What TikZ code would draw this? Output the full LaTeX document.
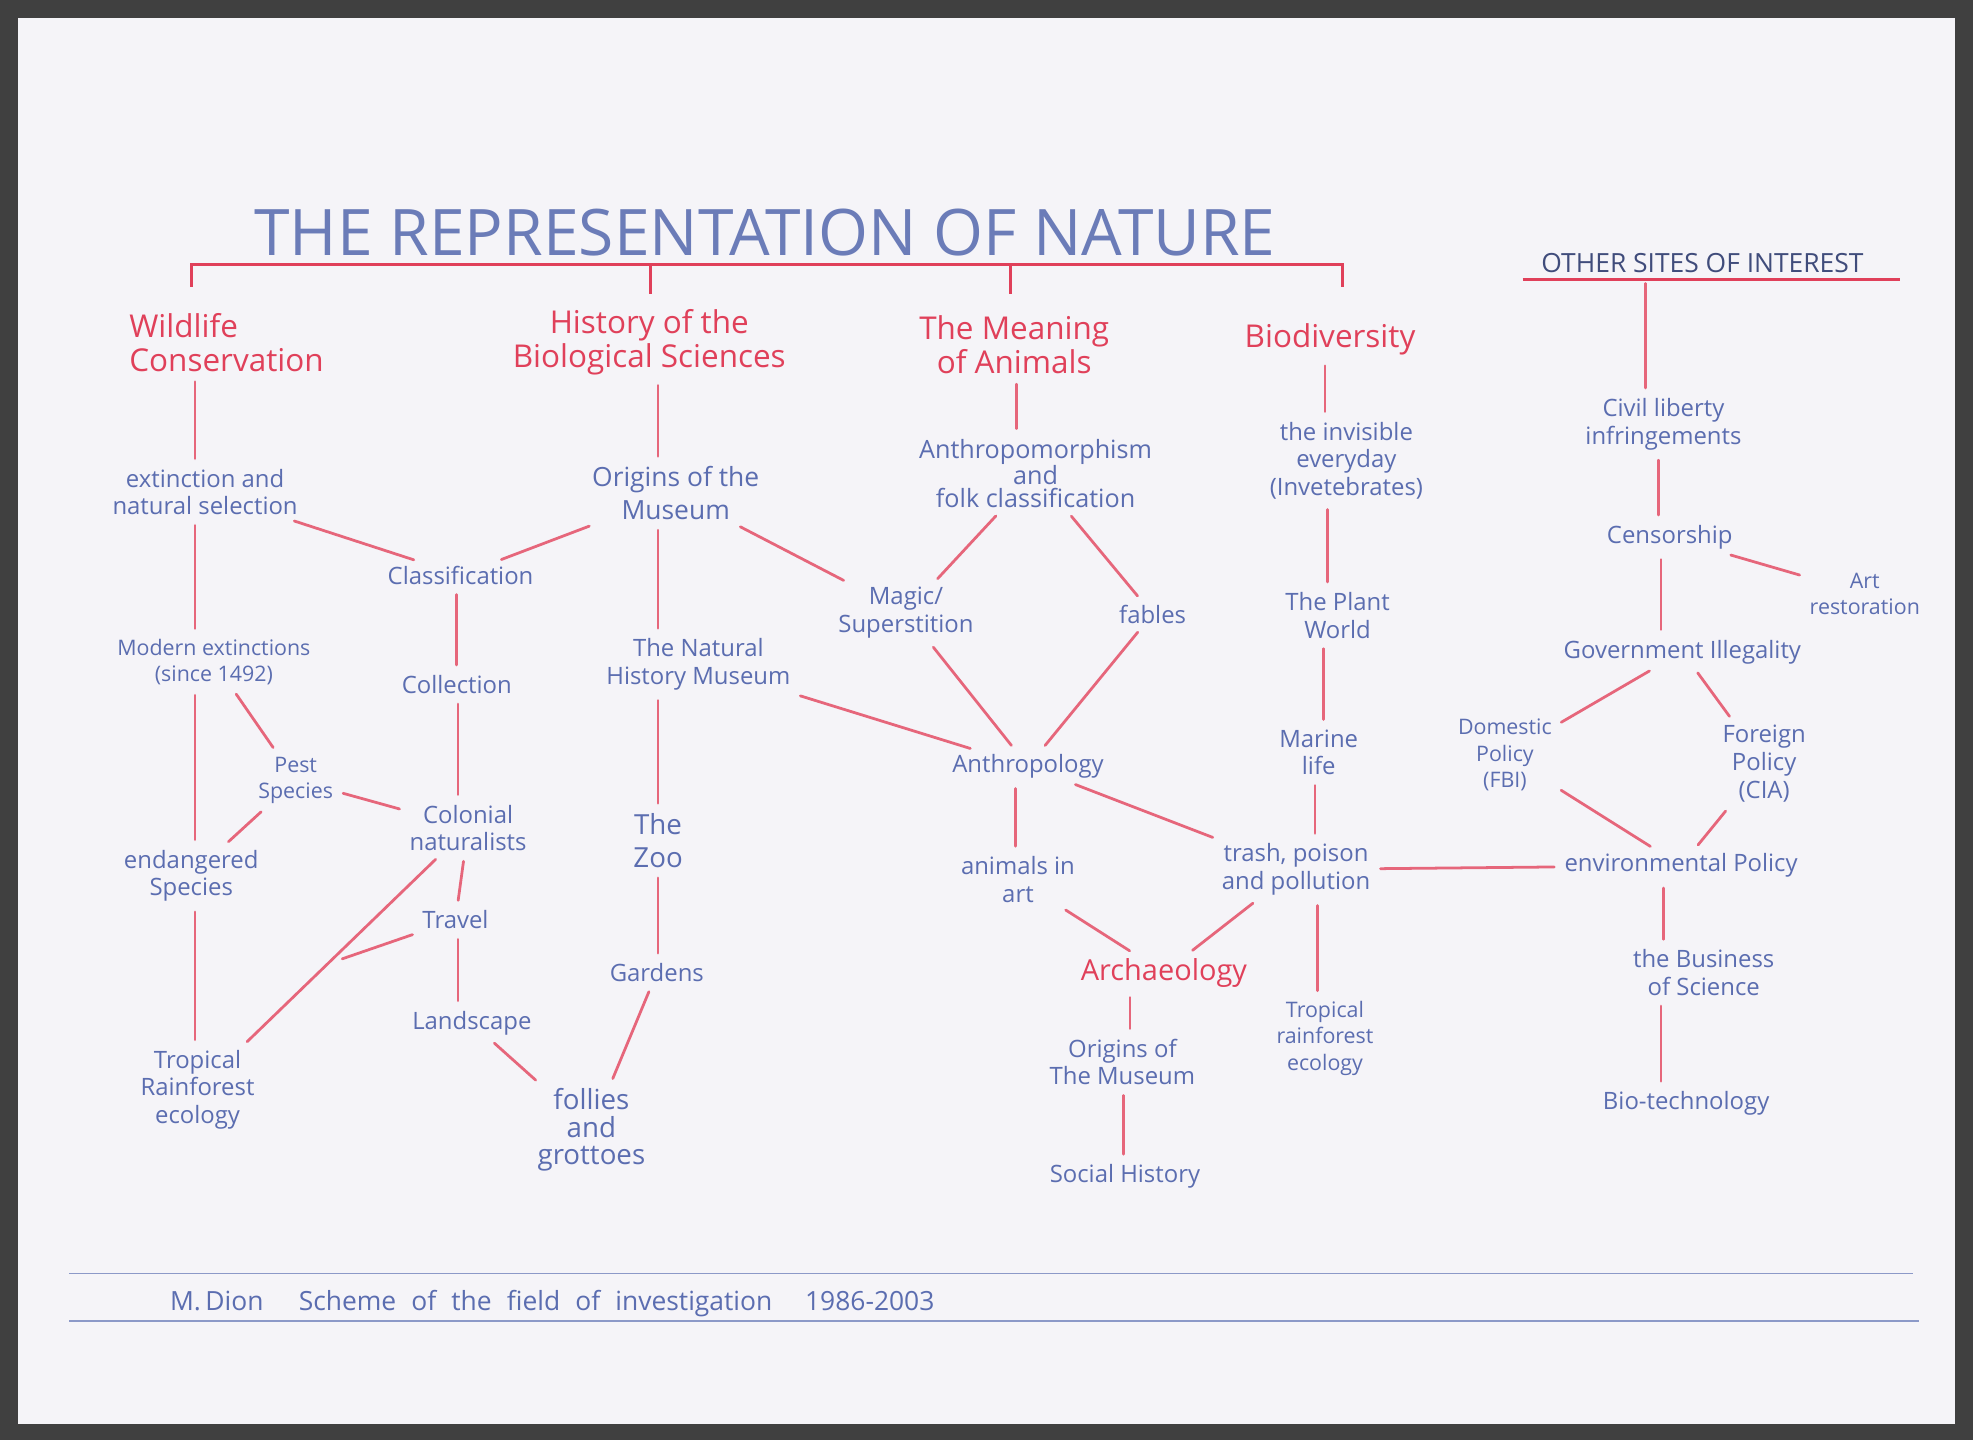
\documentclass[tikz,border=0pt]{standalone}
\usepackage{fontspec}
\setmainfont{Open Sans}
\begin{document}
\begin{tikzpicture}[x=1pt,y=-1pt,
  bl/.style={text=blu,align=center,font=\fontsize{19}{22}\selectfont,inner sep=3pt},
  rd/.style={text=rdc,align=center,font=\fontsize{25}{27}\selectfont,inner sep=3pt},
  ln/.style={draw=rdc!80,line width=2.2pt,line cap=round,shorten >=5pt,shorten <=5pt}]
\definecolor{blu}{HTML}{5B6DB0}
\definecolor{rdc}{HTML}{E0405A}
\definecolor{paper}{HTML}{F5F4F8}
\fill[black!75] (0,0) rectangle (1568,1144);
\fill[paper] (14,14) rectangle (1554,1132);
\useasboundingbox (0,0) rectangle (1568,1144);
\node[text=blu!90,font=\fontsize{51}{54}\selectfont] (title) at (608,185) {THE REPRESENTATION OF NATURE};
\draw[rdc,line width=2.5pt] (152,228)--(152,210)--(1067,210)--(1067,228) (517,210)--(517,234) (803,210)--(803,234);
\node[text=blu!70!black,font=\fontsize{21}{22}\selectfont] (other) at (1353,209) {OTHER SITES OF INTEREST};
\draw[rdc,line width=2.5pt] (1210,222)--(1510,222);
\node[rd,align=left] (wild) at (180,272) {Wildlife\\Conservation};
\node[rd] (hist) at (516,272) {History of the\\Biological Sciences};
\node[rd] (mean) at (806,274) {The Meaning\\of Animals};
\node[rd] (biod) at (1057,270) {Biodiversity};
\node[bl] (ext) at (163,391) {extinction and\\natural selection};
\node[bl,font=\fontsize{17}{21}\selectfont] (mod) at (170,526) {Modern extinctions\\(since 1492)};
\node[bl,font=\fontsize{17}{21}\selectfont] (pest) at (235,620) {Pest\\Species};
\node[bl] (endg) at (152,696) {endangered\\Species};
\node[bl] (trop1) at (157,866) {Tropical\\Rainforest\\ecology};
\node[bl] (class) at (366,457) {Classification};
\node[bl] (coll) at (363,544) {Collection};
\node[bl] (colon) at (372,658) {Colonial\\naturalists};
\node[bl] (travel) at (362,731) {Travel};
\node[bl] (land) at (375,813) {Landscape};
\node[bl,font=\fontsize{22}{22}\selectfont] (follies) at (470,898) {follies\\and\\grottoes};
\node[bl,font=\fontsize{21}{26}\selectfont] (orig) at (537,392) {Origins of the\\Museum};
\node[bl] (nhm) at (555,528) {The Natural\\History Museum};
\node[bl,font=\fontsize{22}{26}\selectfont] (zoo) at (523,668) {The\\Zoo};
\node[bl] (gard) at (522,773) {Gardens};
\node[bl,font=\fontsize{20}{18}\selectfont] (apm) at (823,376) {Anthropomorphism\\and\\folk classification};
\node[bl] (magic) at (720,487) {Magic/\\Superstition};
\node[bl] (fab) at (916,488) {fables};
\node[bl] (anth) at (817,609) {Anthropology};
\node[bl] (art) at (809,699) {animals in\\art};
\node[rd,font=\fontsize{23}{26}\selectfont] (arch) at (925,773) {Archaeology};
\node[bl] (orig2) at (892,844) {Origins of\\The Museum};
\node[bl] (soc) at (894,935) {Social History};
\node[bl] (inv) at (1070,366) {the invisible\\everyday\\(Invetebrates)};
\node[bl] (plant) at (1063,489) {The Plant\\World};
\node[bl] (mar) at (1048,598) {Marine\\life};
\node[bl] (trash) at (1030,691) {trash, poison\\and pollution};
\node[bl,font=\fontsize{17}{21}\selectfont] (trop2) at (1053,825) {Tropical\\rainforest\\ecology};
\node[bl] (civ) at (1322,337) {Civil liberty\\infringements};
\node[bl] (cens) at (1327,427) {Censorship};
\node[bl,font=\fontsize{17}{21}\selectfont] (artr) at (1482,472) {Art\\restoration};
\node[bl] (gov) at (1337,518) {Government Illegality};
\node[bl,font=\fontsize{17}{21}\selectfont] (dom) at (1196,600) {Domestic\\Policy\\(FBI)};
\node[bl] (for) at (1402,607) {Foreign\\Policy\\(CIA)};
\node[bl] (env) at (1336,688) {environmental Policy};
\node[bl] (bus) at (1354,773) {the Business\\of Science};
\node[bl] (bio) at (1340,877) {Bio-technology};
\coordinate (tj) at (272,762);
% vertical connectors
\foreach \a/\b/\x in {wild/ext/155,ext/mod/155,mod/endg/155,endg/trop1/155,class/coll/363,coll/colon/364,travel/land/364,
  hist/orig/523,orig/nhm/523,nhm/zoo/523,zoo/gard/523,mean/apm/808,anth/art/807,arch/orig2/898,orig2/soc/893,
  biod/inv/1053,inv/plant/1055,plant/mar/1052,mar/trash/1045,trash/trop2/1047,
  other/civ/1308,civ/cens/1318,cens/gov/1320,env/bus/1322,bus/bio/1320}
  \draw[ln] (\a.south -| \x,0) -- (\b.north -| \x,0);
% slanted connectors
\foreach \a/\b in {ext/class,mod/pest,pest/endg,pest/colon,
  class/orig,colon/travel,land/follies,follies/gard,
  orig/magic,nhm/anth,
  apm/magic,apm/fab,magic/anth,fab/anth,anth/trash,art/arch,trash/arch,
  trash/env,cens/artr,gov/dom,gov/for,dom/env,for/env}
  \draw[ln] (\a) -- (\b);
\draw[ln] (trop1) -- (colon);
\draw[ln,shorten >=0pt] (travel) -- (tj);
\draw[blu!70,line width=1.2pt] (55,1012)--(1520,1012) (55,1050)--(1525,1050);
\node[bl,anchor=west,font=\fontsize{21}{22}\selectfont] (sig) at (132,1036) {M.\,Dion\hspace{28pt}Scheme\hspace{12pt}of\hspace{12pt}the\hspace{12pt}field\hspace{12pt}of\hspace{12pt}investigation\hspace{26pt}1986-2003};
\end{tikzpicture}
\end{document}
